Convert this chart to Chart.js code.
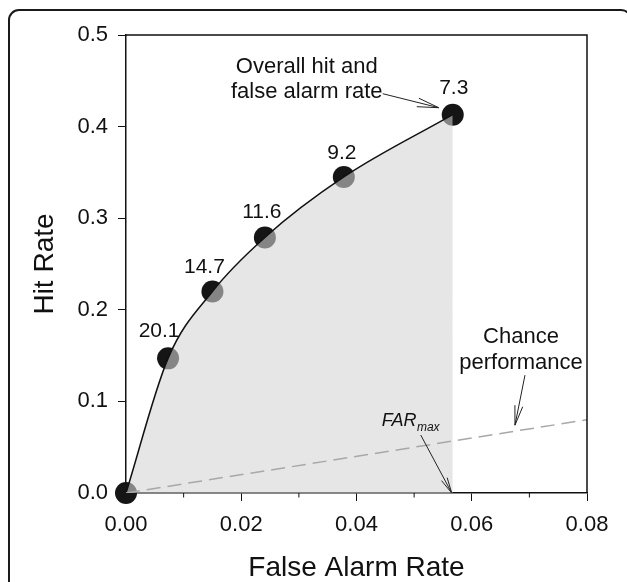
<!DOCTYPE html>
<html>
<head>
<meta charset="utf-8">
<script src="https://cdn.jsdelivr.net/npm/chart.js@4.4.1/dist/chart.umd.min.js"></script>
<style>
  html, body { margin: 0; padding: 0; background: #ffffff; }
  #wrap { width: 627px; height: 582px; }
</style>
</head>
<body>
<div id="wrap"><canvas id="c" width="627" height="582"></canvas></div>
<script>
// ---- data ----
const farValues   = [0, 0.0073, 0.0150, 0.0241, 0.0378, 0.0567];   // False Alarm Rate
const hitValues   = [0, 0.147, 0.220, 0.279, 0.345, 0.413];        // Hit Rate
const pointLabels = ['', '20.1', '14.7', '11.6', '9.2', '7.3'];
const chanceFar   = [0, 0.08];
const chanceHit   = [0, 0.08];
const xTickStep = 0.02, xMinorStep = 0.01, xMin = 0, xMax = 0.08;
const yTickStep = 0.1, yMin = 0, yMax = 0.5;
const xTitle = 'False Alarm Rate';
const yTitle = 'Hit Rate';
const overallText = ['Overall hit and', 'false alarm rate'];
const chanceText = ['Chance', 'performance'];
const farChanceAnchor = 0.0675;

const FONT = '"Liberation Sans", Arial, Helvetica, sans-serif';
const rocPoints = farValues.map((x, i) => ({ x, y: hitValues[i] }));
const chancePoints = chanceFar.map((x, i) => ({ x, y: chanceHit[i] }));

function arrow(ctx, x0, y0, x1, y1, headLen, headAng) {
  ctx.beginPath();
  ctx.moveTo(x0, y0); ctx.lineTo(x1, y1);
  const a = Math.atan2(y1 - y0, x1 - x0);
  ctx.moveTo(x1 - headLen * Math.cos(a - headAng), y1 - headLen * Math.sin(a - headAng));
  ctx.lineTo(x1, y1);
  ctx.lineTo(x1 - headLen * Math.cos(a + headAng), y1 - headLen * Math.sin(a + headAng));
  ctx.stroke();
}

const framePlugin = {
  id: 'frame',
  beforeDraw(chart) {
    const ctx = chart.ctx;
    ctx.save();
    ctx.strokeStyle = '#1a1a1a';
    ctx.lineWidth = 2;
    ctx.beginPath();
    ctx.roundRect(9, 10, 622, 600, 10);
    ctx.stroke();
    ctx.restore();
  },
  afterDraw(chart) {
    const { ctx, chartArea: a, scales } = chart;
    ctx.save();
    ctx.strokeStyle = '#111';
    ctx.lineWidth = 1.5;
    ctx.beginPath();
    ctx.moveTo(a.left, a.top); ctx.lineTo(a.right, a.top); ctx.lineTo(a.right, a.bottom);
    ctx.stroke();
    ctx.lineWidth = 1;
    ctx.beginPath();
    for (let v = xMin + xMinorStep; v < xMax; v += 2 * xMinorStep) {
      const px = scales.x.getPixelForValue(v);
      ctx.moveTo(px, a.bottom); ctx.lineTo(px, a.bottom + 4.5);
    }
    ctx.stroke();
    ctx.restore();
  }
};

const annotPlugin = {
  id: 'annot',
  afterDatasetsDraw(chart) {
    const { ctx, scales } = chart;
    const X = v => scales.x.getPixelForValue(v);
    const Y = v => scales.y.getPixelForValue(v);
    ctx.save();
    ctx.fillStyle = '#111';
    ctx.textAlign = 'center';
    ctx.textBaseline = 'middle';
    ctx.font = '21px ' + FONT;
    const offs = [[0, 0], [-9, -27], [-8, -24], [-3, -25], [-2, -24], [1, -26]];
    pointLabels.forEach((t, i) => {
      if (!t) return;
      ctx.fillText(t, X(farValues[i]) + offs[i][0], Y(hitValues[i]) + offs[i][1]);
    });
    const last = farValues.length - 1;
    const lx = X(farValues[last]), ly = Y(hitValues[last]);
    ctx.font = '22px ' + FONT;
    ctx.fillText(overallText[0], lx - 146, ly - 48);
    ctx.fillText(overallText[1], lx - 146, ly - 23);
    ctx.strokeStyle = '#222';
    ctx.lineWidth = 1;
    arrow(ctx, lx - 70, ly - 21, lx - 14, ly - 7, 22, 0.2);
    const cx = X(farChanceAnchor), cy = Y(farChanceAnchor);
    ctx.fillText(chanceText[0], cx + 6, cy - 94);
    ctx.fillText(chanceText[1], cx + 6, cy - 68);
    arrow(ctx, cx + 10, cy - 56, cx, cy - 6, 20, 0.2);
    const fx = X(farValues[last]), fy = Y(0);
    ctx.textAlign = 'left';
    ctx.textBaseline = 'alphabetic';
    ctx.font = 'italic 18px ' + FONT;
    const farW = ctx.measureText('FAR').width;
    ctx.fillText('FAR', fx - 71, fy - 67);
    ctx.font = 'italic 12px ' + FONT;
    ctx.fillText('max', fx - 71 + farW + 0.5, fy - 62);
    arrow(ctx, fx - 32, fy - 58, fx - 1, fy, 16, 0.2);
    ctx.restore();
  }
};

new Chart(document.getElementById('c'), {
  type: 'scatter',
  data: {
    datasets: [
      {
        label: 'points',
        data: rocPoints,
        pointRadius: 11,
        pointHoverRadius: 11,
        pointBackgroundColor: '#151515',
        pointBorderWidth: 0,
        showLine: false,
        clip: false,
        order: 3
      },
      {
        label: 'curve',
        type: 'line',
        data: rocPoints,
        borderColor: '#111',
        borderWidth: 1.5,
        pointRadius: 0,
        cubicInterpolationMode: 'monotone',
        fill: 'origin',
        backgroundColor: 'rgba(213,213,213,0.59)',
        order: 2
      },
      {
        label: 'chance',
        type: 'line',
        data: chancePoints,
        borderColor: '#a8a8a8',
        borderWidth: 1.5,
        borderDash: [14, 7],
        pointRadius: 0,
        fill: false,
        order: 1
      }
    ]
  },
  options: {
    responsive: false,
    animation: false,
    devicePixelRatio: 1,
    layout: { padding: { left: 0, top: 35, right: 40, bottom: 0 } },
    plugins: { legend: { display: false }, tooltip: { enabled: false } },
    scales: {
      x: {
        type: 'linear',
        min: xMin, max: xMax,
        afterFit: s => { s.height = 89; },
        ticks: {
          stepSize: xTickStep,
          color: '#111',
          font: { family: FONT, size: 22 },
          padding: 11,
          callback: v => Number(v).toFixed(2)
        },
        grid: { drawOnChartArea: false, drawTicks: true, tickLength: 8, tickColor: '#111', tickWidth: 1 },
        border: { display: true, color: '#111', width: 1.5 },
        title: {
          display: true, text: xTitle, color: '#111',
          font: { family: FONT, size: 28, lineHeight: 1 },
          padding: { top: 0, bottom: 0 }
        }
      },
      y: {
        type: 'linear',
        min: yMin, max: yMax,
        afterFit: s => { s.width = 126; },
        ticks: {
          stepSize: yTickStep,
          color: '#111',
          font: { family: FONT, size: 22 },
          padding: 10,
          callback: v => Number(v).toFixed(1)
        },
        grid: { drawOnChartArea: false, drawTicks: true, tickLength: 8, tickColor: '#111', tickWidth: 1 },
        border: { display: true, color: '#111', width: 1.5 },
        title: {
          display: true, text: yTitle, color: '#111',
          font: { family: FONT, size: 28, lineHeight: 1 },
          padding: { top: 31, bottom: 0 }
        }
      }
    }
  },
  plugins: [framePlugin, annotPlugin]
});
</script>
</body>
</html>
